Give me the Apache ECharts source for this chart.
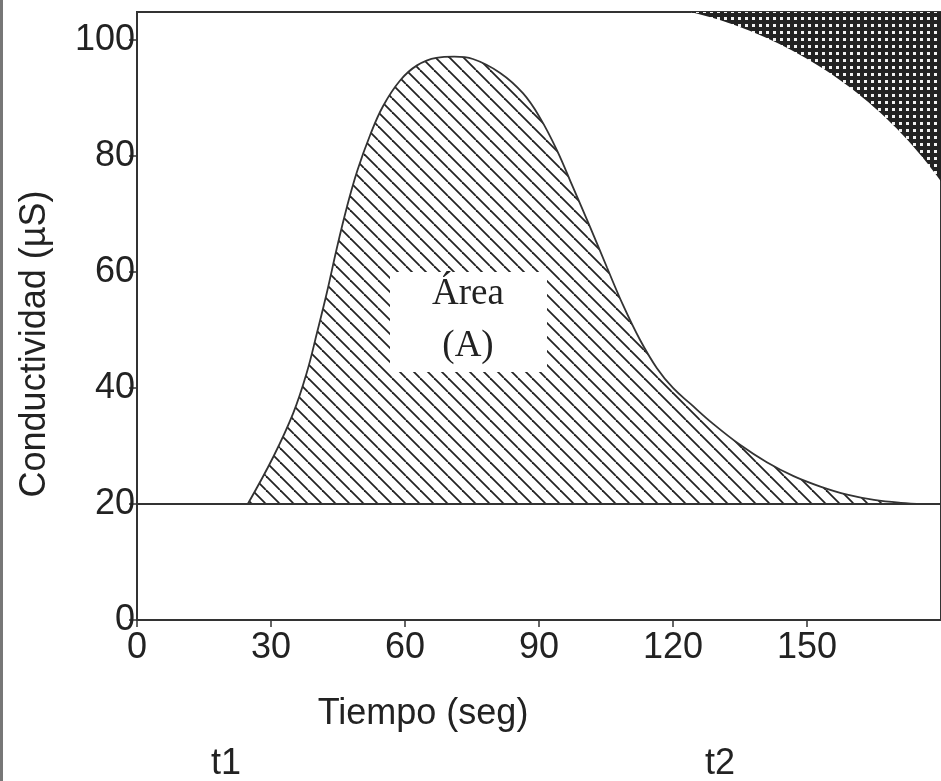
<!DOCTYPE html>
<html>
<head>
<meta charset="utf-8">
<script src="https://cdn.jsdelivr.net/npm/echarts@6/dist/echarts.min.js"></script>
<style>
  html, body { margin: 0; padding: 0; background: #fff; }
  #chart { width: 941px; height: 781px; }
</style>
</head>
<body>
<div id="chart"></div>
<script>
// tiempo (seg) y conductividad (µS)
var tiempo = [24.8, 30.5, 35, 38, 40.3, 42.5, 44.8, 47, 49.3, 52.2, 55.1, 58.9, 62.7, 67, 71, 75.2,
              81.3, 86.4, 90.2, 94, 97.6, 101.4, 105.2, 108.8, 112.6, 116.4, 120, 124, 129, 135, 141,
              147, 153, 159, 165, 171, 176];
var conductividad = [20, 28.1, 35.7, 42.6, 49.5, 56.4, 64.3, 71.2, 77.4, 83.6, 88.6, 93.0, 95.6, 96.9, 97.1, 96.7,
                     94.3, 90.8, 86.6, 81, 74.6, 67.8, 60.8, 54.3, 48.3, 43.4, 40, 37.2, 33.8, 30.2, 27.2,
                     24.8, 23, 21.6, 20.7, 20.2, 20];
var lineaBase = 20;
var xTicks = [0, 30, 60, 90, 120, 150];
var yTicks = [0, 20, 40, 60, 80, 100];

var FONT = 'Liberation Sans, Arial, sans-serif';

// rayado diagonal para el area
function hatchPattern(s) {
    var c = document.createElement('canvas');
    c.width = s; c.height = s;
    var ctx = c.getContext('2d');
    ctx.strokeStyle = '#222';
    ctx.lineWidth = 1.8;
    [-s, 0, s].forEach(function (k) {
        ctx.beginPath();
        ctx.moveTo(k, 0);
        ctx.lineTo(k + s, s);
        ctx.stroke();
    });
    return c;
}
// cuadriculado oscuro de la esquina
function checkPattern(s) {
    var c = document.createElement('canvas');
    c.width = s; c.height = s;
    var ctx = c.getContext('2d');
    ctx.fillStyle = '#222';
    ctx.fillRect(0, 0, s, s);
    ctx.fillStyle = '#f2f2f2';
    ctx.fillRect(3, 3, s - 4, s - 4);
    return c;
}

// esquina: circulo centro (590,430) r 430, recortado al recuadro
var corner = [];
var cx = 590, cy = 430, r = 430;
var a0 = Math.asin((cy - 12) / r), a1 = Math.acos((941 - cx) / r);
for (var i = 0; i <= 40; i++) {
    var a = a0 + (a1 - a0) * i / 40;
    corner.push([cx + r * Math.cos(a), cy - r * Math.sin(a)]);
}
corner.push([941, 12]);

var chart = echarts.init(document.getElementById('chart'));
var option = {
    backgroundColor: '#fff',
    animation: false,
    grid: { left: 137, right: 0, top: 12, bottom: 161, show: true, borderColor: '#333', borderWidth: 2 },
    xAxis: {
        type: 'value', min: 0, max: 180, interval: 30,
        name: 'Tiempo (seg)', nameLocation: 'middle', nameGap: 76,
        nameTextStyle: { fontFamily: FONT, fontSize: 36, color: '#222', padding: [0, 232, 0, 0] },
        axisLine: { lineStyle: { color: '#333', width: 2 } },
        axisTick: { show: true, length: 7, lineStyle: { color: '#333', width: 1.5 } },
        axisLabel: {
            fontFamily: FONT, fontSize: 36, color: '#222', margin: 10, showMaxLabel: false,
            formatter: function (v) { return xTicks.indexOf(v) >= 0 ? String(v) : ''; }
        },
        splitLine: { show: false }
    },
    yAxis: {
        type: 'value', min: 0, max: 104.8, interval: 20,
        name: 'Conductividad (µS)', nameLocation: 'middle', nameGap: 84, nameRotate: 90,
        nameTextStyle: { fontFamily: FONT, fontSize: 36, color: '#222', padding: [0, 56, 0, 0] },
        axisLine: { lineStyle: { color: '#333', width: 2 } },
        axisTick: { show: true, length: 8, lineStyle: { color: '#333', width: 1.5 } },
        axisLabel: {
            fontFamily: FONT, fontSize: 36, color: '#222', margin: 2, showMaxLabel: false,
            formatter: function (v) { return yTicks.indexOf(v) >= 0 ? String(v) : ''; }
        },
        splitLine: { show: false }
    },
    series: [{
        type: 'line',
        data: tiempo.map(function (t, i) { return [t, conductividad[i]]; }),
        smooth: 0.4,
        symbol: 'none',
        lineStyle: { color: '#333', width: 1.8 },
        areaStyle: { origin: lineaBase, opacity: 1, color: { image: hatchPattern(14), repeat: 'repeat' } },
        markLine: {
            silent: true, symbol: 'none', label: { show: false },
            lineStyle: { color: '#333', width: 2, type: 'solid' },
            data: [{ yAxis: lineaBase }]
        },
        z: 3
    }],
    graphic: [
        { type: 'polygon', shape: { points: corner }, style: { fill: { image: checkPattern(7), repeat: 'repeat' } }, z: 1 },
        { type: 'line', shape: { x1: 1.5, y1: 0, x2: 1.5, y2: 781 }, style: { stroke: '#777', lineWidth: 3 } },
        { type: 'rect', shape: { x: 390, y: 272, width: 157, height: 100 }, style: { fill: '#fff' }, z: 10 },
        { type: 'text', x: 468, y: 294, z: 11,
          style: { text: 'Área', font: '37px "Liberation Serif", serif', fill: '#222', align: 'center', verticalAlign: 'middle' } },
        { type: 'text', x: 468, y: 346, z: 11,
          style: { text: '(A)', font: '37px "Liberation Serif", serif', fill: '#222', align: 'center', verticalAlign: 'middle' } },
        { type: 'text', x: 226, y: 764,
          style: { text: 't1', font: '36px "Liberation Sans", Arial, sans-serif', fill: '#222', align: 'center', verticalAlign: 'middle' } },
        { type: 'text', x: 720, y: 764,
          style: { text: 't2', font: '36px "Liberation Sans", Arial, sans-serif', fill: '#222', align: 'center', verticalAlign: 'middle' } }
    ]
};
chart.setOption(option);
</script>
</body>
</html>
